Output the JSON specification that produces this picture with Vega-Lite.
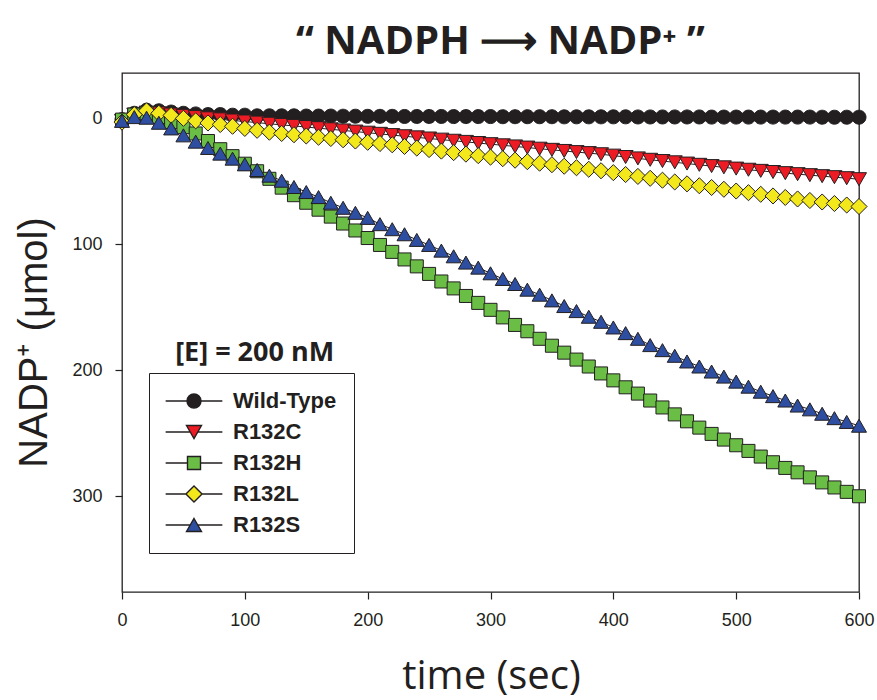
{
  "$schema": "https://vega.github.io/schema/vega-lite/v6.json",
  "width": 737,
  "height": 519,
  "autosize": {"type": "none"},
  "padding": {"left": 122, "top": 73, "right": 18, "bottom": 108},
  "background": "white",
  "config": {
    "view": {"stroke": "#231f20", "strokeWidth": 1.3},
    "axis": {"grid": false, "domain": false, "tickColor": "#231f20", "tickSize": 7, "tickWidth": 1.2, "labelFont": "Liberation Sans", "labelFontSize": 18, "labelColor": "#231f20", "titleColor": "#231f20"}
  },
  "title": {"text": "“ NADPH\u00a0⟶\u00a0NADP⁺ ”", "font": "Open Sans", "fontSize": 40, "fontWeight": "bold", "color": "#231f20", "anchor": "middle", "frame": "group", "dx": 10, "dy": 35, "offset": 14, "baseline": "alphabetic"},
  "datasets": {
    "kinetics": [
      {"series":"Wild-Type","time":0,"nadp":1},{"series":"Wild-Type","time":10,"nadp":-4},{"series":"Wild-Type","time":20,"nadp":-6.5},{"series":"Wild-Type","time":30,"nadp":-6},{"series":"Wild-Type","time":40,"nadp":-5},{"series":"Wild-Type","time":50,"nadp":-4},{"series":"Wild-Type","time":60,"nadp":-3.5},{"series":"Wild-Type","time":70,"nadp":-3},{"series":"Wild-Type","time":80,"nadp":-3},{"series":"Wild-Type","time":90,"nadp":-2.5},{"series":"Wild-Type","time":100,"nadp":-2.5},{"series":"Wild-Type","time":110,"nadp":-2},{"series":"Wild-Type","time":120,"nadp":-2},{"series":"Wild-Type","time":130,"nadp":-2},{"series":"Wild-Type","time":140,"nadp":-2},{"series":"Wild-Type","time":150,"nadp":-1.8},{"series":"Wild-Type","time":160,"nadp":-1.8},{"series":"Wild-Type","time":170,"nadp":-1.8},{"series":"Wild-Type","time":180,"nadp":-1.7},{"series":"Wild-Type","time":190,"nadp":-1.7},{"series":"Wild-Type","time":200,"nadp":-1.6},{"series":"Wild-Type","time":210,"nadp":-1.6},{"series":"Wild-Type","time":220,"nadp":-1.6},{"series":"Wild-Type","time":230,"nadp":-1.5},{"series":"Wild-Type","time":240,"nadp":-1.5},{"series":"Wild-Type","time":250,"nadp":-1.5},{"series":"Wild-Type","time":260,"nadp":-1.5},{"series":"Wild-Type","time":270,"nadp":-1.4},{"series":"Wild-Type","time":280,"nadp":-1.4},{"series":"Wild-Type","time":290,"nadp":-1.4},{"series":"Wild-Type","time":300,"nadp":-1.4},{"series":"Wild-Type","time":310,"nadp":-1.3},{"series":"Wild-Type","time":320,"nadp":-1.3},{"series":"Wild-Type","time":330,"nadp":-1.3},{"series":"Wild-Type","time":340,"nadp":-1.3},{"series":"Wild-Type","time":350,"nadp":-1.3},{"series":"Wild-Type","time":360,"nadp":-1.2},{"series":"Wild-Type","time":370,"nadp":-1.2},{"series":"Wild-Type","time":380,"nadp":-1.2},{"series":"Wild-Type","time":390,"nadp":-1.2},{"series":"Wild-Type","time":400,"nadp":-1.2},{"series":"Wild-Type","time":410,"nadp":-1.2},{"series":"Wild-Type","time":420,"nadp":-1.1},{"series":"Wild-Type","time":430,"nadp":-1.1},{"series":"Wild-Type","time":440,"nadp":-1.1},{"series":"Wild-Type","time":450,"nadp":-1.1},{"series":"Wild-Type","time":460,"nadp":-1.1},{"series":"Wild-Type","time":470,"nadp":-1.1},{"series":"Wild-Type","time":480,"nadp":-1},{"series":"Wild-Type","time":490,"nadp":-1},{"series":"Wild-Type","time":500,"nadp":-1},{"series":"Wild-Type","time":510,"nadp":-1},{"series":"Wild-Type","time":520,"nadp":-1},{"series":"Wild-Type","time":530,"nadp":-1},{"series":"Wild-Type","time":540,"nadp":-1},{"series":"Wild-Type","time":550,"nadp":-1},{"series":"Wild-Type","time":560,"nadp":-1},{"series":"Wild-Type","time":570,"nadp":-0.9},{"series":"Wild-Type","time":580,"nadp":-0.9},{"series":"Wild-Type","time":590,"nadp":-0.9},{"series":"Wild-Type","time":600,"nadp":-0.9},
      {"series":"R132C","time":0,"nadp":2},{"series":"R132C","time":10,"nadp":-3},{"series":"R132C","time":20,"nadp":-4.5},{"series":"R132C","time":30,"nadp":-4},{"series":"R132C","time":40,"nadp":-3},{"series":"R132C","time":50,"nadp":-2},{"series":"R132C","time":60,"nadp":-1},{"series":"R132C","time":70,"nadp":0},{"series":"R132C","time":80,"nadp":0.8},{"series":"R132C","time":90,"nadp":1.7},{"series":"R132C","time":100,"nadp":2.5},{"series":"R132C","time":110,"nadp":3.4},{"series":"R132C","time":120,"nadp":4.3},{"series":"R132C","time":130,"nadp":5.2},{"series":"R132C","time":140,"nadp":6},{"series":"R132C","time":150,"nadp":6.9},{"series":"R132C","time":160,"nadp":7.8},{"series":"R132C","time":170,"nadp":8.7},{"series":"R132C","time":180,"nadp":9.6},{"series":"R132C","time":190,"nadp":10.5},{"series":"R132C","time":200,"nadp":11.4},{"series":"R132C","time":210,"nadp":12.3},{"series":"R132C","time":220,"nadp":13.3},{"series":"R132C","time":230,"nadp":14.2},{"series":"R132C","time":240,"nadp":15.1},{"series":"R132C","time":250,"nadp":16},{"series":"R132C","time":260,"nadp":16.9},{"series":"R132C","time":270,"nadp":17.8},{"series":"R132C","time":280,"nadp":18.7},{"series":"R132C","time":290,"nadp":19.6},{"series":"R132C","time":300,"nadp":20.5},{"series":"R132C","time":310,"nadp":21.4},{"series":"R132C","time":320,"nadp":22.3},{"series":"R132C","time":330,"nadp":23.2},{"series":"R132C","time":340,"nadp":24.1},{"series":"R132C","time":350,"nadp":25},{"series":"R132C","time":360,"nadp":25.9},{"series":"R132C","time":370,"nadp":26.8},{"series":"R132C","time":380,"nadp":27.6},{"series":"R132C","time":390,"nadp":28.5},{"series":"R132C","time":400,"nadp":29.6},{"series":"R132C","time":410,"nadp":30.7},{"series":"R132C","time":420,"nadp":31.8},{"series":"R132C","time":430,"nadp":32.9},{"series":"R132C","time":440,"nadp":33.9},{"series":"R132C","time":450,"nadp":34.9},{"series":"R132C","time":460,"nadp":35.9},{"series":"R132C","time":470,"nadp":36.9},{"series":"R132C","time":480,"nadp":37.9},{"series":"R132C","time":490,"nadp":38.9},{"series":"R132C","time":500,"nadp":39.9},{"series":"R132C","time":510,"nadp":40.8},{"series":"R132C","time":520,"nadp":41.7},{"series":"R132C","time":530,"nadp":42.6},{"series":"R132C","time":540,"nadp":43.5},{"series":"R132C","time":550,"nadp":44.3},{"series":"R132C","time":560,"nadp":45.1},{"series":"R132C","time":570,"nadp":45.9},{"series":"R132C","time":580,"nadp":46.7},{"series":"R132C","time":590,"nadp":47.5},{"series":"R132C","time":600,"nadp":48.3},
      {"series":"R132H","time":0,"nadp":1},{"series":"R132H","time":10,"nadp":-3},{"series":"R132H","time":20,"nadp":-4},{"series":"R132H","time":30,"nadp":-1},{"series":"R132H","time":40,"nadp":3},{"series":"R132H","time":50,"nadp":7},{"series":"R132H","time":60,"nadp":12},{"series":"R132H","time":70,"nadp":18},{"series":"R132H","time":80,"nadp":24.5},{"series":"R132H","time":90,"nadp":30},{"series":"R132H","time":100,"nadp":36},{"series":"R132H","time":110,"nadp":42},{"series":"R132H","time":120,"nadp":48},{"series":"R132H","time":130,"nadp":55},{"series":"R132H","time":140,"nadp":61},{"series":"R132H","time":150,"nadp":67},{"series":"R132H","time":160,"nadp":72.5},{"series":"R132H","time":170,"nadp":78},{"series":"R132H","time":180,"nadp":83.5},{"series":"R132H","time":190,"nadp":89},{"series":"R132H","time":200,"nadp":95},{"series":"R132H","time":210,"nadp":100.5},{"series":"R132H","time":220,"nadp":106},{"series":"R132H","time":230,"nadp":112},{"series":"R132H","time":240,"nadp":117.5},{"series":"R132H","time":250,"nadp":123.5},{"series":"R132H","time":260,"nadp":129.5},{"series":"R132H","time":270,"nadp":135},{"series":"R132H","time":280,"nadp":141},{"series":"R132H","time":290,"nadp":146.5},{"series":"R132H","time":300,"nadp":152},{"series":"R132H","time":310,"nadp":158},{"series":"R132H","time":320,"nadp":164},{"series":"R132H","time":330,"nadp":169},{"series":"R132H","time":340,"nadp":175},{"series":"R132H","time":350,"nadp":180.5},{"series":"R132H","time":360,"nadp":186},{"series":"R132H","time":370,"nadp":191.5},{"series":"R132H","time":380,"nadp":197},{"series":"R132H","time":390,"nadp":202.5},{"series":"R132H","time":400,"nadp":208},{"series":"R132H","time":410,"nadp":213.5},{"series":"R132H","time":420,"nadp":218.5},{"series":"R132H","time":430,"nadp":224},{"series":"R132H","time":440,"nadp":229.5},{"series":"R132H","time":450,"nadp":235},{"series":"R132H","time":460,"nadp":240.5},{"series":"R132H","time":470,"nadp":245.5},{"series":"R132H","time":480,"nadp":250.5},{"series":"R132H","time":490,"nadp":255},{"series":"R132H","time":500,"nadp":259.5},{"series":"R132H","time":510,"nadp":264},{"series":"R132H","time":520,"nadp":268.5},{"series":"R132H","time":530,"nadp":273},{"series":"R132H","time":540,"nadp":277.5},{"series":"R132H","time":550,"nadp":281},{"series":"R132H","time":560,"nadp":285},{"series":"R132H","time":570,"nadp":289},{"series":"R132H","time":580,"nadp":293},{"series":"R132H","time":590,"nadp":296.5},{"series":"R132H","time":600,"nadp":300},
      {"series":"R132L","time":0,"nadp":3},{"series":"R132L","time":10,"nadp":-3},{"series":"R132L","time":20,"nadp":-6},{"series":"R132L","time":30,"nadp":-4},{"series":"R132L","time":40,"nadp":-2.4},{"series":"R132L","time":50,"nadp":0},{"series":"R132L","time":60,"nadp":2},{"series":"R132L","time":70,"nadp":3.7},{"series":"R132L","time":80,"nadp":4.9},{"series":"R132L","time":90,"nadp":6.3},{"series":"R132L","time":100,"nadp":8},{"series":"R132L","time":110,"nadp":9.5},{"series":"R132L","time":120,"nadp":11},{"series":"R132L","time":130,"nadp":12},{"series":"R132L","time":140,"nadp":13},{"series":"R132L","time":150,"nadp":14},{"series":"R132L","time":160,"nadp":15},{"series":"R132L","time":170,"nadp":16},{"series":"R132L","time":180,"nadp":17},{"series":"R132L","time":190,"nadp":18},{"series":"R132L","time":200,"nadp":19},{"series":"R132L","time":210,"nadp":20},{"series":"R132L","time":220,"nadp":21},{"series":"R132L","time":230,"nadp":22.3},{"series":"R132L","time":240,"nadp":23.6},{"series":"R132L","time":250,"nadp":24.8},{"series":"R132L","time":260,"nadp":26},{"series":"R132L","time":270,"nadp":27.2},{"series":"R132L","time":280,"nadp":28.4},{"series":"R132L","time":290,"nadp":29.6},{"series":"R132L","time":300,"nadp":30.8},{"series":"R132L","time":310,"nadp":32},{"series":"R132L","time":320,"nadp":33.2},{"series":"R132L","time":330,"nadp":34.4},{"series":"R132L","time":340,"nadp":35.6},{"series":"R132L","time":350,"nadp":36.8},{"series":"R132L","time":360,"nadp":38},{"series":"R132L","time":370,"nadp":39.2},{"series":"R132L","time":380,"nadp":40.4},{"series":"R132L","time":390,"nadp":41.6},{"series":"R132L","time":400,"nadp":43.1},{"series":"R132L","time":410,"nadp":44.6},{"series":"R132L","time":420,"nadp":46.1},{"series":"R132L","time":430,"nadp":47.6},{"series":"R132L","time":440,"nadp":49.1},{"series":"R132L","time":450,"nadp":50.5},{"series":"R132L","time":460,"nadp":52},{"series":"R132L","time":470,"nadp":53.5},{"series":"R132L","time":480,"nadp":54.9},{"series":"R132L","time":490,"nadp":56.3},{"series":"R132L","time":500,"nadp":57.7},{"series":"R132L","time":510,"nadp":59},{"series":"R132L","time":520,"nadp":60.3},{"series":"R132L","time":530,"nadp":61.6},{"series":"R132L","time":540,"nadp":62.8},{"series":"R132L","time":550,"nadp":64},{"series":"R132L","time":560,"nadp":65.2},{"series":"R132L","time":570,"nadp":66.4},{"series":"R132L","time":580,"nadp":67.6},{"series":"R132L","time":590,"nadp":68.8},{"series":"R132L","time":600,"nadp":70},
      {"series":"R132S","time":0,"nadp":2},{"series":"R132S","time":10,"nadp":-1},{"series":"R132S","time":20,"nadp":-0.5},{"series":"R132S","time":30,"nadp":3.5},{"series":"R132S","time":40,"nadp":8},{"series":"R132S","time":50,"nadp":13.5},{"series":"R132S","time":60,"nadp":18.5},{"series":"R132S","time":70,"nadp":23.5},{"series":"R132S","time":80,"nadp":28},{"series":"R132S","time":90,"nadp":32},{"series":"R132S","time":100,"nadp":36.5},{"series":"R132S","time":110,"nadp":41},{"series":"R132S","time":120,"nadp":45.5},{"series":"R132S","time":130,"nadp":49.5},{"series":"R132S","time":140,"nadp":54.5},{"series":"R132S","time":150,"nadp":58.5},{"series":"R132S","time":160,"nadp":62.5},{"series":"R132S","time":170,"nadp":67},{"series":"R132S","time":180,"nadp":71},{"series":"R132S","time":190,"nadp":75},{"series":"R132S","time":200,"nadp":79},{"series":"R132S","time":210,"nadp":84},{"series":"R132S","time":220,"nadp":88},{"series":"R132S","time":230,"nadp":92},{"series":"R132S","time":240,"nadp":96.5},{"series":"R132S","time":250,"nadp":100.5},{"series":"R132S","time":260,"nadp":105},{"series":"R132S","time":270,"nadp":109.5},{"series":"R132S","time":280,"nadp":114.5},{"series":"R132S","time":290,"nadp":118.5},{"series":"R132S","time":300,"nadp":123},{"series":"R132S","time":310,"nadp":127.5},{"series":"R132S","time":320,"nadp":131.5},{"series":"R132S","time":330,"nadp":136},{"series":"R132S","time":340,"nadp":140},{"series":"R132S","time":350,"nadp":144.5},{"series":"R132S","time":360,"nadp":149},{"series":"R132S","time":370,"nadp":153},{"series":"R132S","time":380,"nadp":157.5},{"series":"R132S","time":390,"nadp":161.5},{"series":"R132S","time":400,"nadp":166},{"series":"R132S","time":410,"nadp":170.5},{"series":"R132S","time":420,"nadp":175},{"series":"R132S","time":430,"nadp":180},{"series":"R132S","time":440,"nadp":184},{"series":"R132S","time":450,"nadp":188.5},{"series":"R132S","time":460,"nadp":193},{"series":"R132S","time":470,"nadp":197},{"series":"R132S","time":480,"nadp":201},{"series":"R132S","time":490,"nadp":205},{"series":"R132S","time":500,"nadp":209},{"series":"R132S","time":510,"nadp":213},{"series":"R132S","time":520,"nadp":217},{"series":"R132S","time":530,"nadp":220.5},{"series":"R132S","time":540,"nadp":224},{"series":"R132S","time":550,"nadp":228},{"series":"R132S","time":560,"nadp":231},{"series":"R132S","time":570,"nadp":234.5},{"series":"R132S","time":580,"nadp":238},{"series":"R132S","time":590,"nadp":241},{"series":"R132S","time":600,"nadp":244}
    ]
  },
  "layer": [
    {
      "data": {"name": "kinetics"},
      "mark": {"type": "line", "stroke": "#231f20", "strokeWidth": 1},
      "encoding": {
        "x": {"field": "time", "type": "quantitative", "scale": {"domain": [0, 600], "nice": false, "zero": false},
          "axis": {"values": [0, 100, 200, 300, 400, 500, 600], "title": "time (sec)", "titleFont": "Open Sans", "titleFontSize": 40, "titleFontWeight": "normal", "titleX": 369, "titleY": 96, "titleAlign": "center", "titleBaseline": "alphabetic", "labelPadding": 12, "labelFlush": false}},
        "y": {"field": "nadp", "type": "quantitative", "scale": {"domain": [-36, 376], "reverse": true, "nice": false, "zero": false},
          "axis": {"values": [0, 100, 200, 300], "title": "NADP⁺ (μmol)", "titleFont": "Liberation Sans", "titleFontSize": 40, "titleFontWeight": "normal", "titleAngle": 270, "titleX": -76, "titleY": 269, "titleAlign": "center", "titleBaseline": "alphabetic", "labelPadding": 13}},
        "detail": {"field": "series", "type": "nominal"}
      }
    },
    {
      "data": {"name": "kinetics"},
      "mark": {"type": "point", "filled": true, "opacity": 1, "stroke": "#231f20", "strokeWidth": 1, "size": 196},
      "encoding": {
        "x": {"field": "time", "type": "quantitative"},
        "y": {"field": "nadp", "type": "quantitative"},
        "color": {"field": "series", "type": "nominal", "scale": {"domain": ["Wild-Type", "R132C", "R132H", "R132L", "R132S"], "range": ["#231f20", "#ed1c24", "#6abd45", "#f2e81c", "#2e4ea1"]}, "legend": null},
        "shape": {"field": "series", "type": "nominal", "scale": {"domain": ["Wild-Type", "R132C", "R132H", "R132L", "R132S"], "range": [
          "M1,0A1,1,0,1,1,-1,0A1,1,0,1,1,1,0Z",
          "M-1.07,-0.93L1.07,-0.93L0,0.93Z",
          "M-0.93,-0.93L0.93,-0.93L0.93,0.93L-0.93,0.93Z",
          "M0,-1.15L1.15,0L0,1.15L-1.15,0Z",
          "M0,-0.93L1.07,0.93L-1.07,0.93Z"]}, "legend": null}
      }
    },
    {
      "data": {"name": "kinetics"},
      "transform": [{"filter": "false"}],
      "mark": {"type": "point", "filled": true, "opacity": 1, "stroke": "#231f20", "strokeWidth": 1.4, "size": 196},
      "encoding": {
        "x": {"field": "time", "type": "quantitative"},
        "y": {"field": "nadp", "type": "quantitative"},
        "color": {"field": "series", "type": "nominal", "scale": {"domain": ["Wild-Type", "R132C", "R132H", "R132L", "R132S"], "range": ["#231f20", "#ed1c24", "#6abd45", "#f2e81c", "#2e4ea1"]},
          "legend": {"orient": "none", "legendX": 27, "legendY": 300, "title": null, "labelFont": "Liberation Sans", "labelFontSize": 22, "labelFontWeight": "bold", "labelColor": "#231f20", "symbolSize": 196, "strokeColor": "#231f20", "fillColor": "white", "padding": 17, "rowPadding": 9, "symbolOffset": 17, "labelOffset": 28, "symbolStrokeWidth": 1.4, "symbolStrokeColor": "#231f20"}},
        "shape": {"field": "series", "type": "nominal", "scale": {"domain": ["Wild-Type", "R132C", "R132H", "R132L", "R132S"], "range": [
          "M-4.05,0L-1,0M1,0L4.05,0M1,0A1,1,0,1,1,-1,0A1,1,0,1,1,1,0Z",
          "M-4.05,0L-0.54,0M0.54,0L4.05,0M-1.07,-0.93L1.07,-0.93L0,0.93Z",
          "M-4.05,0L-0.93,0M0.93,0L4.05,0M-0.93,-0.93L0.93,-0.93L0.93,0.93L-0.93,0.93Z",
          "M-4.05,0L-1.15,0M1.15,0L4.05,0M0,-1.15L1.15,0L0,1.15L-1.15,0Z",
          "M-4.05,0L-0.54,0M0.54,0L4.05,0M0,-0.93L1.07,0.93L-1.07,0.93Z"]},
          "legend": {"orient": "none", "legendX": 27, "legendY": 300, "title": null, "labelFont": "Liberation Sans", "labelFontSize": 22, "labelFontWeight": "bold", "labelColor": "#231f20", "symbolSize": 196, "strokeColor": "#231f20", "fillColor": "white", "padding": 17, "rowPadding": 9, "symbolOffset": 17, "labelOffset": 28, "symbolStrokeWidth": 1.4, "symbolStrokeColor": "#231f20"}}
      }
    },
    {
      "data": {"values": [{}]},
      "mark": {"type": "text", "text": "[E] = 200 nM", "font": "Open Sans", "fontSize": 27, "fontWeight": "bold", "color": "#231f20", "align": "center", "baseline": "alphabetic"},
      "encoding": {
        "x": {"datum": 108, "type": "quantitative"},
        "y": {"datum": 193, "type": "quantitative"}
      }
    }
  ],
  "resolve": {"scale": {"color": "independent", "shape": "independent"}}
}
